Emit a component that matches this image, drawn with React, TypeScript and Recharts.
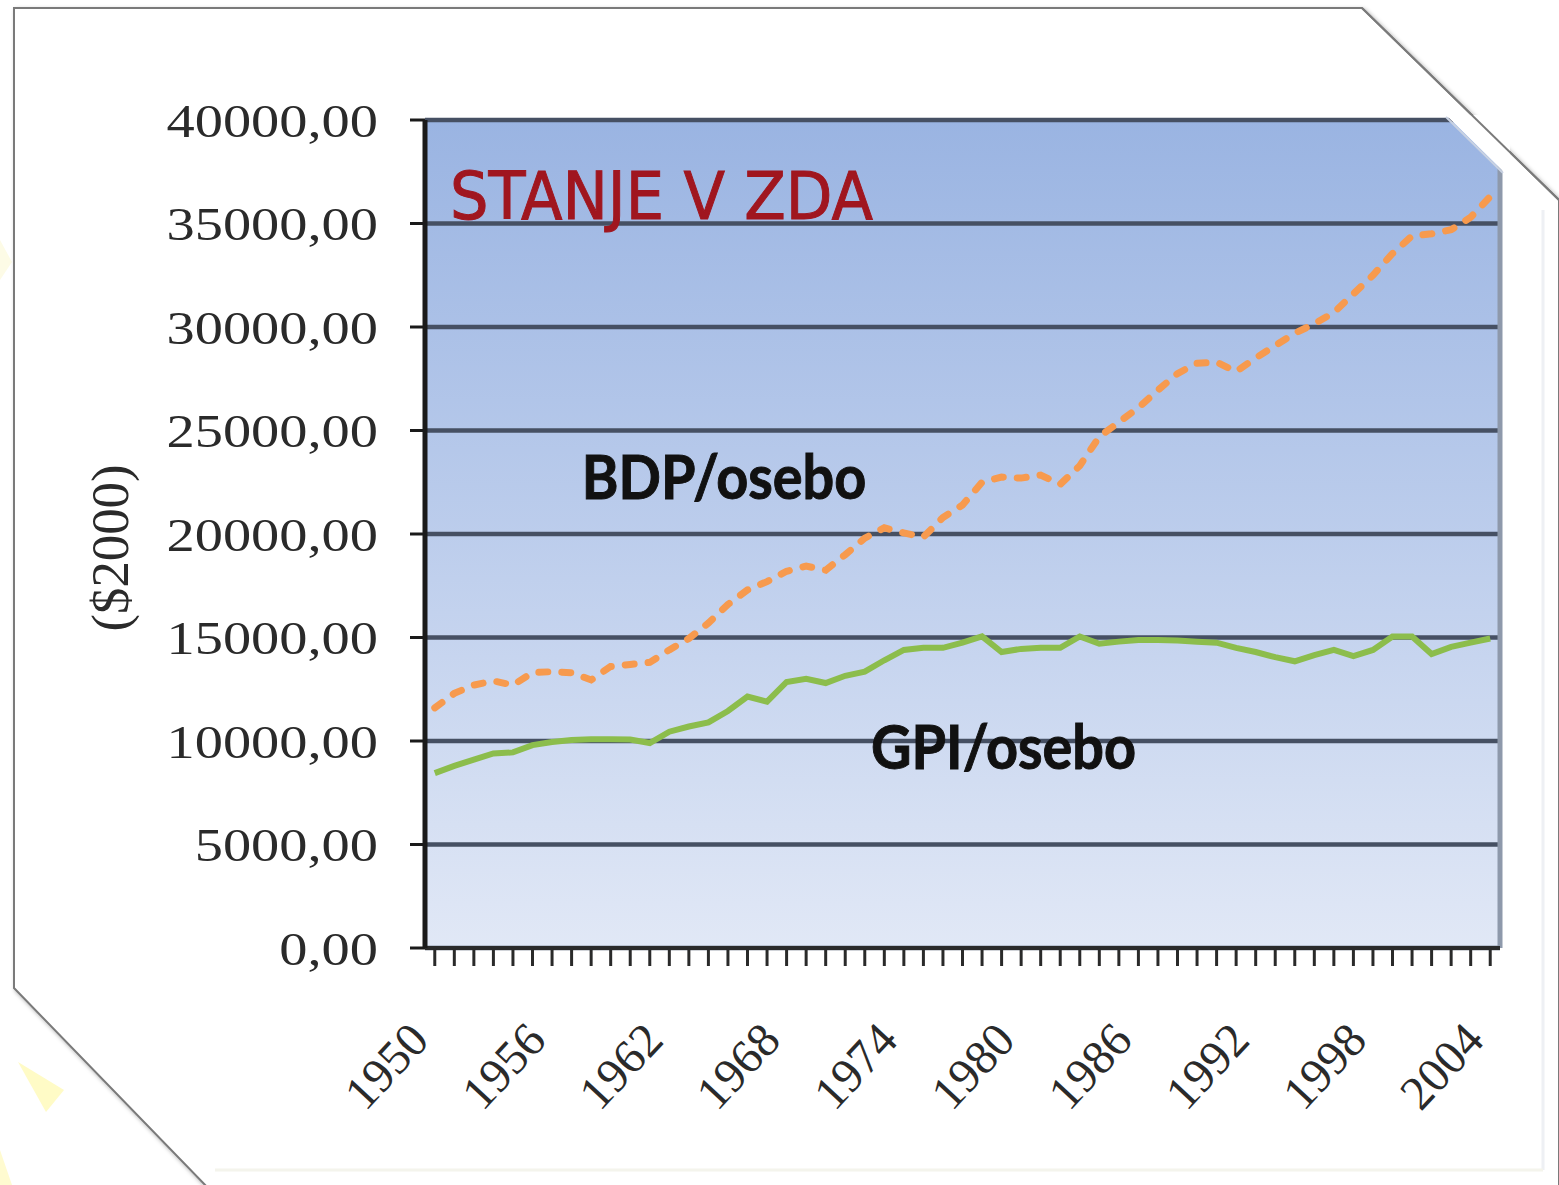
import React from 'react';
import {
  LineChart,
  Line,
  XAxis,
  YAxis,
  CartesianGrid,
  ReferenceDot,
  ReferenceLine,
} from 'recharts';

// ---- data ----
const years = [
  1950, 1951, 1952, 1953, 1954, 1955, 1956, 1957, 1958, 1959,
  1960, 1961, 1962, 1963, 1964, 1965, 1966, 1967, 1968, 1969,
  1970, 1971, 1972, 1973, 1974, 1975, 1976, 1977, 1978, 1979,
  1980, 1981, 1982, 1983, 1984, 1985, 1986, 1987, 1988, 1989,
  1990, 1991, 1992, 1993, 1994, 1995, 1996, 1997, 1998, 1999,
  2000, 2001, 2002, 2003, 2004,
];

const bdpPerPerson = [
  11600, 12300, 12700, 12900, 12700, 13300, 13350, 13300, 12950, 13600,
  13700, 13800, 14400, 14950, 15700, 16600, 17300, 17700, 18200, 18450,
  18250, 19000, 19800, 20300, 20050, 19850, 20800, 21400, 22500, 22750,
  22700, 22850, 22400, 23300, 24700, 25400, 26100, 26950, 27750, 28250,
  28300, 27850, 28500, 29100, 29700, 30150, 30700, 31600, 32500, 33550,
  34400, 34500, 34700, 35300, 36300,
];

const gpiPerPerson = [
  8450, 8800, 9100, 9400, 9450, 9800, 9950, 10050, 10080, 10080,
  10070, 9900, 10450, 10700, 10900, 11450, 12150, 11900, 12850, 13000,
  12800, 13150, 13350, 13900, 14400, 14500, 14500, 14750, 15050, 14300,
  14450, 14500, 14500, 15050, 14700, 14800, 14880, 14880, 14850, 14800,
  14750, 14500, 14300, 14050, 13850, 14150, 14400, 14100, 14400, 15050,
  15050, 14200, 14550, 14750, 14950,
];

const labelYears = [1950, 1956, 1962, 1968, 1974, 1980, 1986, 1992, 1998, 2004];
const yTicks = [0, 5000, 10000, 15000, 20000, 25000, 30000, 35000, 40000];

const chartData = years.map((year, i) => ({
  year,
  bdp: bdpPerPerson[i],
  gpi: gpiPerPerson[i],
}));

const fmt = (v: number) => v.toFixed(2).replace('.', ',');

const SERIF = '"Liberation Serif", "DejaVu Serif", serif';

const YTick = (props: any) => {
  const { x, y, payload } = props;
  return (
    <text
      transform={`translate(${x},${y}) scale(1.2,1)`}
      textAnchor="end"
      dy="0.36em"
      fontFamily={SERIF}
      fontSize={47}
      fill="#2a2a2a"
    >
      {fmt(payload.value)}
    </text>
  );
};

const XTick = (props: any) => {
  const { x, y, payload } = props;
  if (!labelYears.includes(payload.value)) return <g />;
  const tx = x - 4;
  const ty = y + 76;
  return (
    <text
      x={tx}
      y={ty}
      transform={`rotate(-47, ${tx}, ${ty})`}
      textAnchor="end"
      fontFamily={SERIF}
      fontSize={48}
      fill="#2a2a2a"
    >
      {payload.value}
    </text>
  );
};

const makeAnnot = (text: string, color: string, size: number, weight: string, sx: number, family: string) =>
  (p: any) => {
    const vb = p.viewBox || {};
    const cx = (vb.x || 0) + (vb.width || 0) / 2;
    const cy = (vb.y || 0) + (vb.height || 0) / 2;
    return (
      <text
        transform={`translate(${cx},${cy}) scale(${sx},1)`}
        textAnchor="middle"
        dominantBaseline="central"
        fontFamily={family}
        fontSize={size}
        fontWeight={weight}
        fill={color}
        stroke={color}
        strokeWidth={1}
      >
        {text}
      </text>
    );
  };

const YLabel = (p: any) => {
  const vb = p.viewBox || {};
  const cx = (vb.x || 0) + 110;
  const cy = (vb.y || 0) + (vb.height || 0) / 2 + 14;
  return (
    <text
      transform={`translate(${cx},${cy}) rotate(-90) scale(1.1,1.1)`}
      textAnchor="middle"
      dominantBaseline="central"
      fontFamily={SERIF}
      fontSize={48}
      fill="#2a2a2a"
    >
      ($2000)
    </text>
  );
};

export default function App() {
  return (
    <div
      style={{
        position: 'absolute',
        left: 0,
        top: 0,
        width: 1559,
        height: 1185,
        background: '#ffffff',
        overflow: 'hidden',
      }}
    >
      {/* slide card background */}
      <svg
        width={1559}
        height={1185}
        style={{ position: 'absolute', left: 0, top: 0 }}
      >
        <defs>
          <filter id="shadow" x="-5%" y="-5%" width="110%" height="110%">
            <feDropShadow dx="2" dy="2" stdDeviation="2" floodColor="#000" floodOpacity="0.35" />
          </filter>
        </defs>
        <polygon points="18,1062 64,1090 46,1112" fill="#fffbc6" />
        <polygon points="0,1150 12,1185 0,1185" fill="#fffbd0" />
        <polygon points="0,240 12,262 0,280" fill="#fdfbe6" />
        <polygon
          points="14,8 1362,8 1559,200 1559,1190 210,1190 14,988"
          fill="#ffffff"
          stroke="#7a7a7a"
          strokeWidth={2}
          filter="url(#shadow)"
        />
        <line x1={1543} y1={210} x2={1543} y2={1170} stroke="#eef0f4" strokeWidth={3} />
        <line x1={215} y1={1170} x2={1543} y2={1170} stroke="#f4f4ec" strokeWidth={3} />
      </svg>

      <div style={{ position: 'absolute', left: 0, top: 0 }}>
        <LineChart
          width={1559}
          height={1185}
          data={chartData}
          margin={{ top: 120, right: 59, bottom: 0, left: 0 }}
        >
          <defs>
            <linearGradient id="plotBg" x1="0" y1="0" x2="0" y2="1">
              <stop offset="0%" stopColor="#9ab4e2" />
              <stop offset="50%" stopColor="#bccdec" />
              <stop offset="100%" stopColor="#e1e8f6" />
            </linearGradient>
          </defs>
          <CartesianGrid
            vertical={false}
            fill="url(#plotBg)"
            fillOpacity={1}
            stroke="#465063"
            strokeWidth={4.5}
          />
          <XAxis
            dataKey="year"
            type="number"
            domain={[1949.5, 2004.5]}
            ticks={years}
            interval={0}
            height={237}
            tickSize={18}
            tickMargin={0}
            tick={XTick}
            tickLine={{ stroke: '#2a2a2a', strokeWidth: 3 }}
            axisLine={{ stroke: '#2a2a2a', strokeWidth: 4 }}
          />
          <YAxis
            type="number"
            domain={[0, 40000]}
            ticks={yTicks}
            interval={0}
            width={425}
            tickSize={15}
            tickMargin={32}
            tick={YTick}
            tickLine={{ stroke: '#1a1a1a', strokeWidth: 3 }}
            axisLine={{ stroke: '#1a1a1a', strokeWidth: 5 }}
            label={{ content: YLabel }}
          />
          <ReferenceLine x={2004.5} stroke="#8e99ab" strokeWidth={5} />
          <Line
            type="linear"
            dataKey="gpi"
            stroke="#8cbd4c"
            strokeWidth={6}
            dot={false}
            activeDot={false}
            isAnimationActive={false}
          />
          <Line
            type="linear"
            dataKey="bdp"
            stroke="#f79a4e"
            strokeWidth={7}
            strokeDasharray="9 14"
            strokeLinecap="round"
            dot={false}
            activeDot={false}
            isAnimationActive={false}
          />
          <ReferenceDot
            x={1961.6}
            y={36300}
            r={0}
            fill="none"
            stroke="none"
            label={{ content: makeAnnot('STANJE V ZDA', '#a0161f', 66, 'normal', 0.92, '"DejaVu Sans", sans-serif') }}
          />
          <ReferenceDot
            x={1964.8}
            y={22850}
            r={0}
            fill="none"
            stroke="none"
            label={{ content: makeAnnot('BDP/osebo', '#111111', 62, 'bold', 0.9, 'Lato, "DejaVu Sans", sans-serif') }}
          />
          <ReferenceDot
            x={1979.1}
            y={9800}
            r={0}
            fill="none"
            stroke="none"
            label={{ content: makeAnnot('GPI/osebo', '#111111', 62, 'bold', 0.9, 'Lato, "DejaVu Sans", sans-serif') }}
          />
        </LineChart>
      </div>

      {/* cut corner overlay of slide frame */}
      <svg
        width={1559}
        height={1185}
        style={{ position: 'absolute', left: 0, top: 0, pointerEvents: 'none' }}
      >
        <polygon points="1446,115 1510,115 1510,178" fill="#ffffff" />
        <line x1={1446} y1={117} x2={1503} y2={173} stroke="#c9d2e2" strokeWidth={2} />
        <line x1={1362} y1={8} x2={1559} y2={200} stroke="#7a7a7a" strokeWidth={2} />
      </svg>
    </div>
  );
}
